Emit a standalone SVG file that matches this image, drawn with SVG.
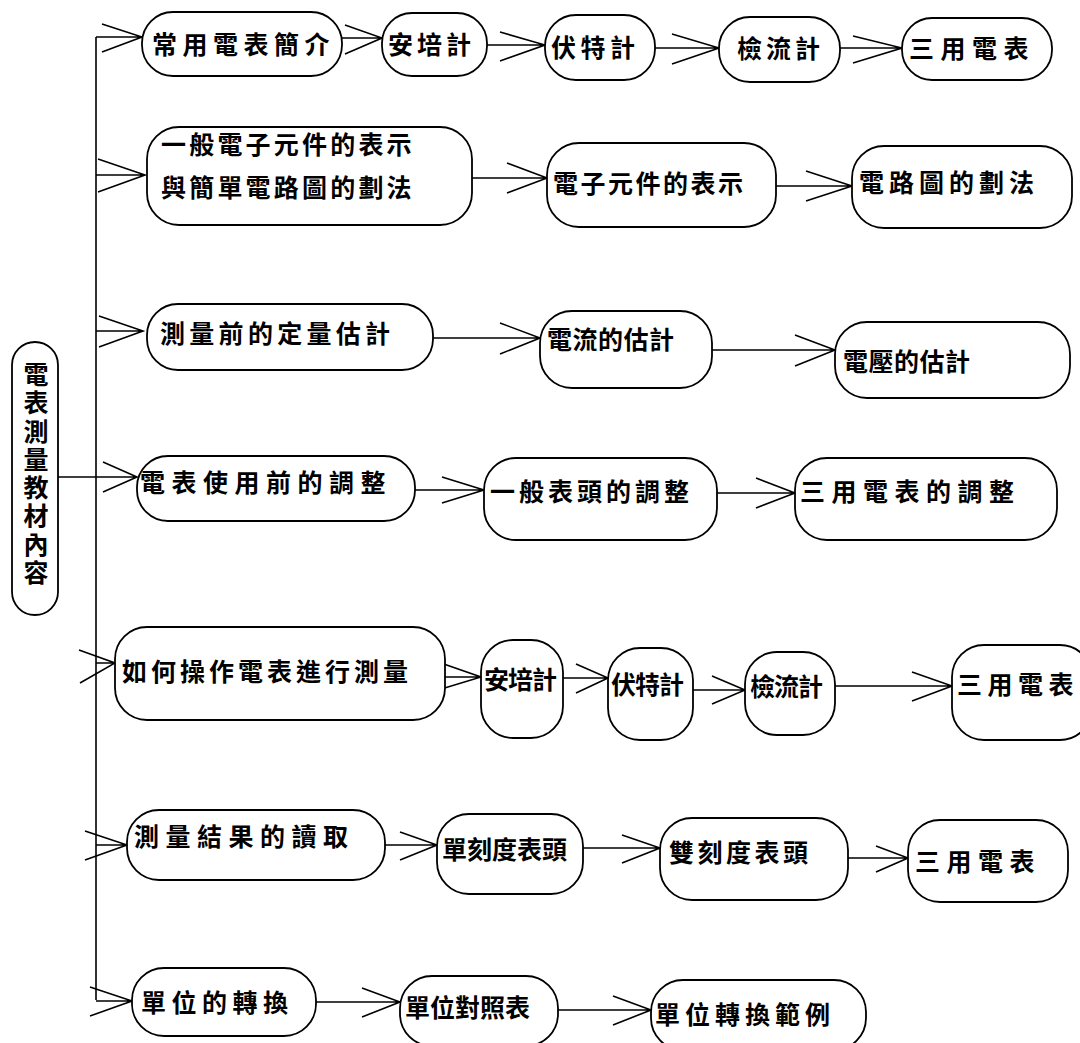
<svg xmlns="http://www.w3.org/2000/svg" width="1080" height="1043" viewBox="0 0 1080 1043">
<style>
.n{fill:#fff;stroke:#000;stroke-width:1.8}
.t{font-family:"Noto Sans CJK TC","Noto Sans CJK SC",sans-serif;font-size:25px;font-weight:700;letter-spacing:4px;fill:#000}
.c{fill:none;stroke:#000;stroke-width:1.6}
</style>
<rect width="1080" height="1043" fill="#fff"/>
<g id="connectors">
<path class="c" d="M58 477H96M96 37V1000"/>
<path class="c" d="M96 37H142M102 24L142 37L102 52"/>
<path class="c" d="M96 175H145M98 159L145 175L98 192"/>
<path class="c" d="M96 331H143M99 316L143 331L99 347"/>
<path class="c" d="M96 477H137M103 462L137 477L103 492"/>
<path class="c" d="M96 663H115M79 650L115 663L80 683"/>
<path class="c" d="M96 845H127M85 831L127 845L85 860"/>
<path class="c" d="M96 1001H132M90 987L132 1001L90 1016"/>
<path class="c" d="M342 38H382M345 25L382 38L345 54"/>
<path class="c" d="M487 45H545M500 32L545 45L500 61"/>
<path class="c" d="M655 48H719M672 34L719 48L672 64"/>
<path class="c" d="M840 48H902M853 36L902 48L853 63"/>
<path class="c" d="M472 178H547M507 163L547 178L507 193"/>
<path class="c" d="M776 186H852M806 171L852 186L806 201"/>
<path class="c" d="M433 338H540M500 323L540 338L500 354"/>
<path class="c" d="M712 350H835M795 335L835 350L795 366"/>
<path class="c" d="M415 490H484M442 477L484 490L442 503"/>
<path class="c" d="M717 493H795M756 478L795 493L756 508"/>
<path class="c" d="M445 677H481M438 662L481 677L438 690"/>
<path class="c" d="M563 678H608M576 664L608 678L576 693"/>
<path class="c" d="M693 690H745M712 676L745 690L712 704"/>
<path class="c" d="M835 686H952M912 672L952 686L912 701"/>
<path class="c" d="M385 845H437M400 832L437 845L400 860"/>
<path class="c" d="M583 848H660M622 835L660 848L622 863"/>
<path class="c" d="M848 858H908M876 846L908 858L876 872"/>
<path class="c" d="M316 1002H400M362 988L400 1002L362 1017"/>
<path class="c" d="M558 1010H651M613 996L651 1010L613 1025"/>
</g>
<g id="root"><rect class="n" x="12" y="342" width="46" height="273" rx="23"/>
<text class="t" x="36" y="362" style="writing-mode:vertical-rl;letter-spacing:3.3px">電表測量教材內容</text></g>
<g id="r1a"><rect class="n" x="142" y="12" width="200" height="64" rx="31"/><text class="t" x="152" y="54" style="letter-spacing:5.5px">常用電表簡介</text></g>
<g id="r1b"><rect class="n" x="382" y="13" width="105" height="63" rx="30"/><text class="t" x="388" y="54">安培計</text></g>
<g id="r1c"><rect class="n" x="545" y="15" width="110" height="65" rx="31"/><text class="t" x="551" y="57" style="letter-spacing:4.5px">伏特計</text></g>
<g id="r1d"><rect class="n" x="719" y="17" width="121" height="65" rx="31"/><text class="t" x="737" y="58">檢流計</text></g>
<g id="r1e"><rect class="n" x="902" y="18" width="150" height="62" rx="30"/><text class="t" x="909" y="58" style="letter-spacing:6.5px">三用電表</text></g>
<g id="r2a"><rect class="n" x="147" y="127" width="325" height="98" rx="32"/><text class="t" x="161" y="154" style="letter-spacing:3.2px">一般電子元件的表示</text><text class="t" x="161" y="197" style="letter-spacing:3.2px">與簡單電路圖的劃法</text></g>
<g id="r2b"><rect class="n" x="547" y="143" width="229" height="84" rx="32"/><text class="t" x="553" y="193" style="letter-spacing:2.5px">電子元件的表示</text></g>
<g id="r2c"><rect class="n" x="852" y="146" width="220" height="82" rx="32"/><text class="t" x="859" y="192" style="letter-spacing:5px">電路圖的劃法</text></g>
<g id="r3a"><rect class="n" x="147" y="304" width="286" height="66" rx="31"/><text class="t" x="160" y="343" style="letter-spacing:4.3px">測量前的定量估計</text></g>
<g id="r3b"><rect class="n" x="540" y="311" width="172" height="77" rx="32"/><text class="t" x="547" y="349" style="letter-spacing:0.5px">電流的估計</text></g>
<g id="r3c"><rect class="n" x="835" y="322" width="235" height="76" rx="32"/><text class="t" x="843" y="371" style="letter-spacing:0.5px">電壓的估計</text></g>
<g id="r4a"><rect class="n" x="137" y="456" width="278" height="65" rx="31"/><text class="t" x="140" y="492" style="letter-spacing:6.5px">電表使用前的調整</text></g>
<g id="r4b"><rect class="n" x="484" y="458" width="233" height="82" rx="32"/><text class="t" x="490" y="501">一般表頭的調整</text></g>
<g id="r4c"><rect class="n" x="795" y="458" width="262" height="82" rx="32"/><text class="t" x="800" y="501" style="letter-spacing:6.5px">三用電表的調整</text></g>
<g id="r5a"><rect class="n" x="115" y="627" width="330" height="93" rx="32"/><text class="t" x="122" y="681">如何操作電表進行測量</text></g>
<g id="r5b"><rect class="n" x="481" y="640" width="82" height="98" rx="32"/><text class="t" x="484" y="689" style="letter-spacing:-1px">安培計</text></g>
<g id="r5c"><rect class="n" x="608" y="648" width="85" height="92" rx="32"/><text class="t" x="611" y="694" style="letter-spacing:-1px">伏特計</text></g>
<g id="r5d"><rect class="n" x="745" y="652" width="90" height="83" rx="32"/><text class="t" x="750" y="696" style="letter-spacing:-1px">檢流計</text></g>
<g id="r5e"><rect class="n" x="952" y="645" width="140" height="95" rx="32"/><text class="t" x="957" y="694" style="letter-spacing:5.5px">三用電表</text></g>
<g id="r6a"><rect class="n" x="127" y="810" width="258" height="70" rx="32"/><text class="t" x="134" y="846" style="letter-spacing:6.5px">測量結果的讀取</text></g>
<g id="r6b"><rect class="n" x="437" y="814" width="146" height="80" rx="32"/><text class="t" x="442" y="859" style="letter-spacing:0px">單刻度表頭</text></g>
<g id="r6c"><rect class="n" x="660" y="818" width="188" height="82" rx="32"/><text class="t" x="669" y="862" style="letter-spacing:3.5px">雙刻度表頭</text></g>
<g id="r6d"><rect class="n" x="908" y="820" width="160" height="82" rx="32"/><text class="t" x="915" y="871" style="letter-spacing:6.5px">三用電表</text></g>
<g id="r7a"><rect class="n" x="132" y="968" width="184" height="68" rx="32"/><text class="t" x="141" y="1012" style="letter-spacing:5.5px">單位的轉換</text></g>
<g id="r7b"><rect class="n" x="400" y="976" width="158" height="70" rx="32"/><text class="t" x="405" y="1017" style="letter-spacing:0px">單位對照表</text></g>
<g id="r7c"><rect class="n" x="651" y="980" width="215" height="70" rx="32"/><text class="t" x="655" y="1024" style="letter-spacing:5px">單位轉換範例</text></g>
</svg>
